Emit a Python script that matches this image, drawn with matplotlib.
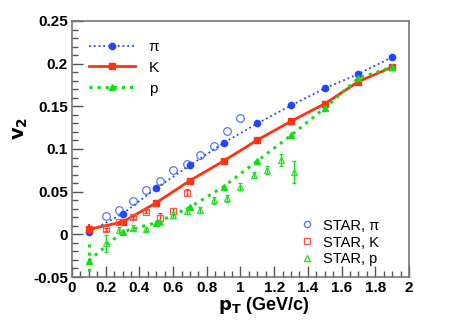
import numpy as np
import matplotlib
matplotlib.use("Agg")
import matplotlib.pyplot as plt
from matplotlib.ticker import MultipleLocator
from matplotlib.lines import Line2D

plt.rcParams['font.family'] = ['Liberation Sans', 'DejaVu Sans']

# модельные кривые
pt_model = [0.1, 0.3, 0.5, 0.7, 0.9, 1.1, 1.3, 1.5, 1.7, 1.9]
v2_pi = [0.003, 0.024, 0.054, 0.081, 0.107, 0.130, 0.151, 0.171, 0.188, 0.2075]
v2_k = [0.006, 0.0144, 0.037, 0.063, 0.086, 0.1105, 0.1325, 0.153, 0.179, 0.196]
v2_p = [-0.031, 0.003, 0.0136, 0.0317, 0.056, 0.086, 0.116, 0.148, 0.183, 0.196]

# STAR данные
pt_star_pi = [0.2, 0.28, 0.36, 0.44, 0.52, 0.6, 0.68, 0.76, 0.84, 0.92, 1.0]
v2_star_pi = [0.021, 0.028, 0.039, 0.052, 0.063, 0.075, 0.083, 0.093, 0.104, 0.121, 0.136]

pt_star_k = [0.2, 0.28, 0.36, 0.44, 0.52, 0.6, 0.68]
v2_star_k = [0.006, 0.014, 0.02, 0.0265, 0.0195, 0.0273, 0.049]
err_star_k = [0.002, 0.002, 0.002, 0.002, 0.006, 0.003, 0.004]

pt_star_p = [0.2, 0.28, 0.36, 0.44, 0.52, 0.6, 0.68, 0.76, 0.84, 0.92, 1.0, 1.08, 1.16, 1.24, 1.32]
v2_star_p = [-0.0106, 0.005, 0.008, 0.006, 0.014, 0.0226, 0.0273, 0.0285, 0.040, 0.042, 0.056, 0.0695, 0.0754, 0.087, 0.0734]
err_star_p = [0.01, 0.004, 0.003, 0.002, 0.002, 0.003, 0.003, 0.003, 0.004, 0.004, 0.004, 0.004, 0.005, 0.007, 0.0127]

c_pi = '#2244ff'
c_k = '#ff3311'
c_p = '#11dd11'
c_pi_o = '#5577ff'
c_k_o = '#ff5544'
c_p_o = '#33dd33'

fig = plt.figure(figsize=(4.51, 3.27), dpi=100)
ax = fig.add_axes([0.1596, 0.1529, 0.7473, 0.7829])

# STAR точки
ax.plot(pt_star_pi, v2_star_pi, 'o', mfc='none', mec=c_pi_o, ms=5.5, mew=0.9)
ax.errorbar(pt_star_k, v2_star_k, yerr=err_star_k, fmt='s', mfc='none', mec=c_k_o,
            ecolor=c_k, ms=5, mew=0.9, elinewidth=1, capsize=1.5)
ax.errorbar(pt_star_p, v2_star_p, yerr=err_star_p, fmt='^', mfc='none', mec=c_p_o,
            ecolor=c_p, ms=5, mew=0.9, elinewidth=1, capsize=1.5)

# модели
ax.plot(pt_model, v2_pi, ':', color=c_pi, lw=1.3, marker='o', ms=4.5)
ax.plot(pt_model, v2_k, '-', color=c_k, lw=2, marker='s', ms=4.5)
ax.errorbar(pt_model[:1], v2_k[:1], yerr=0.006, fmt='none', ecolor=c_k, elinewidth=1.5)
ax.plot(pt_model, v2_p, ':', color=c_p, lw=2.2, marker='^', ms=4.5)
ax.plot([0.1, 0.1], [-0.011, -0.07], ':', color=c_p, lw=2.2)

ax.set_xlim(0, 2)
ax.set_ylim(-0.05, 0.25)
ax.xaxis.set_minor_locator(MultipleLocator(0.05))
ax.yaxis.set_minor_locator(MultipleLocator(0.01))
ax.set_xticks(np.arange(0, 2.01, 0.2))
ax.set_xticklabels(['0', '0.2', '0.4', '0.6', '0.8', '1', '1.2', '1.4', '1.6', '1.8', '2'])
ax.set_yticks([-0.05, 0, 0.05, 0.1, 0.15, 0.2, 0.25])
ax.set_yticklabels(['-0.05', '0', '0.05', '0.1', '0.15', '0.2', '0.25'])
ax.tick_params(which='both', direction='in', top=False, right=False, color='#555555')
ax.tick_params(which='major', length=8, width=1, labelsize=11, pad=3)
ax.tick_params(which='minor', length=4, width=1)
for lab in ax.get_xticklabels() + ax.get_yticklabels():
    lab.set_fontweight('bold')
for s in ax.spines.values():
    s.set_color('#777777')
    s.set_linewidth(1.2)

ax.set_xlabel(r'$\mathbf{p_T}$ (GeV/c)', fontsize=13, fontweight='bold', labelpad=1)
ax.xaxis.set_label_coords(0.57, -0.07, transform=ax.transAxes)
ax.xaxis.label.set_verticalalignment('top')
ax.set_ylabel(r'$\mathbf{v_2}$', fontsize=14, fontweight='bold')
ax.yaxis.set_label_coords(-0.125, 0.58)

h1 = [Line2D([], [], ls=':', color=c_pi, lw=1.3, marker='o', ms=4.5),
      Line2D([], [], ls='-', color=c_k, lw=2, marker='s', ms=4.5),
      Line2D([], [], ls=':', color=c_p, lw=2.2, marker='^', ms=4.5)]
leg1 = ax.legend(h1, ['π', 'K', 'p'], loc='upper left', bbox_to_anchor=(0.01, 0.98),
                 frameon=False, fontsize=11, handlelength=3.0, labelspacing=0.45,
                 handletextpad=0.9)
ax.add_artist(leg1)

h2 = [Line2D([], [], ls='none', marker='o', mfc='none', mec=c_pi_o, ms=4.5),
      Line2D([], [], ls='none', marker='s', mfc='none', mec=c_k_o, ms=4.5),
      Line2D([], [], ls='none', marker='^', mfc='none', mec=c_p_o, ms=4.5)]
ax.legend(h2, ['STAR, π', 'STAR, K', 'STAR, p'], loc='lower right',
          bbox_to_anchor=(0.95, -0.01), frameon=False, fontsize=10.5, handlelength=1.0,
          labelspacing=0.2, handletextpad=0.6)

fig.savefig('out.png', dpi=100)
